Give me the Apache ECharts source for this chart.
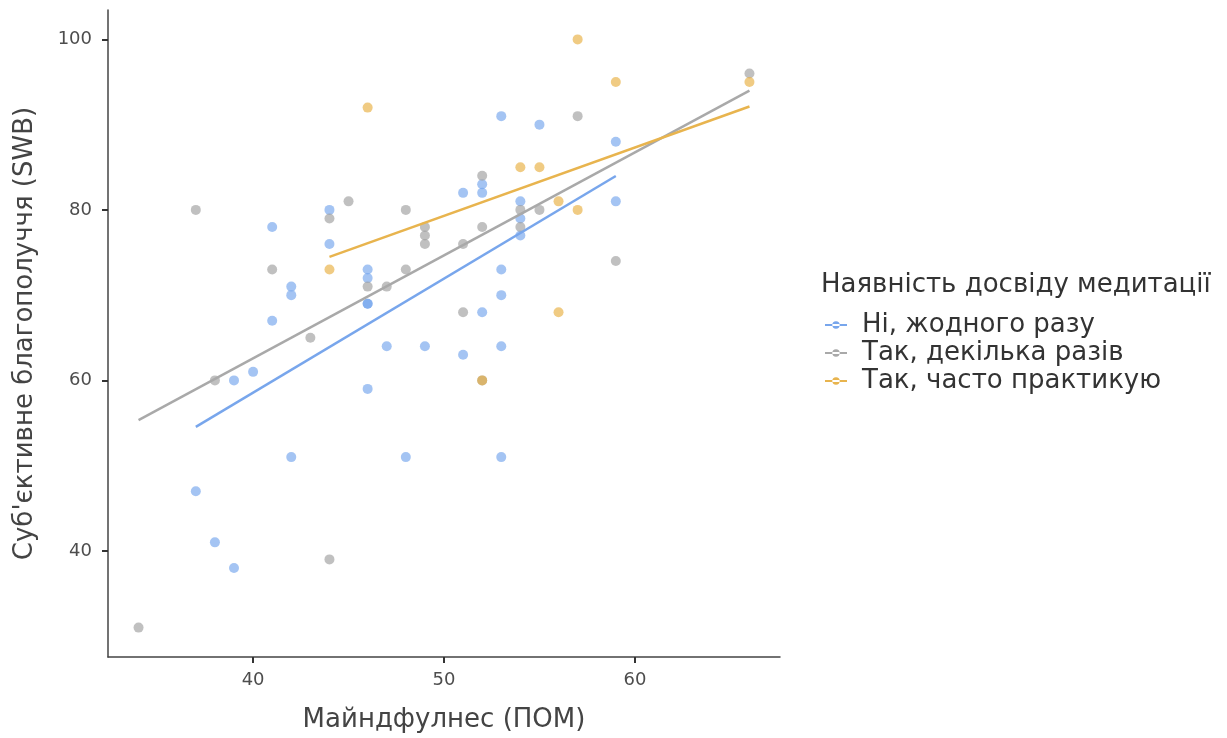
<!DOCTYPE html>
<html>
<head>
<meta charset="utf-8">
<script src="https://cdn.jsdelivr.net/npm/echarts@6/dist/echarts.min.js"></script>
<style>html,body{margin:0;padding:0;background:#fff;}#c{width:1227px;height:738px;}</style>
</head>
<body>
<div id="c"></div>
<script>
const groupNames = ['Ні, жодного разу', 'Так, декілька разів', 'Так, часто практикую'];
const noneX = [41,44,44,41,42,42,46,46,46,46,39,40,37,38,39,42,46,47,48,49,51,51,52,52,52,53,53,53,53,53,54,54,54,55,59,59];
const noneY = [78,80,76,67,71,70,73,72,69,69,60,61,47,41,38,51,59,64,51,64,82,63,68,83,82,91,73,70,64,51,81,79,77,90,88,81];
const fewX = [34,37,38,41,43,44,44,45,46,47,48,48,49,49,49,51,51,52,52,52,54,54,55,57,59,66];
const fewY = [31,80,60,73,65,79,39,81,71,71,80,73,78,77,76,76,68,84,78,60,80,78,80,91,74,96];
const oftenX = [46,44,52,54,55,56,56,57,57,59,66];
const oftenY = [92,73,60,85,85,81,68,100,80,95,95];
const xTicks = [40, 50, 60];
const yTicks = [40, 60, 80, 100];

const X_MIN = 32.4, X_MAX = 67.6, Y_MIN = 27.55, Y_MAX = 103.45;
const pointColors = ['rgba(112,162,236,0.8)', 'rgba(156,156,156,0.8)', 'rgba(232,174,61,0.8)'];
const lineColors = ['#78A6EC', '#A9A9A9', '#E8B44E'];

function fit(xs, ys) {
  const n = xs.length;
  const mx = xs.reduce((a, b) => a + b, 0) / n;
  const my = ys.reduce((a, b) => a + b, 0) / n;
  let sxy = 0, sxx = 0;
  for (let i = 0; i < n; i++) { sxy += (xs[i] - mx) * (ys[i] - my); sxx += (xs[i] - mx) ** 2; }
  const b = sxy / sxx, a = my - b * mx;
  const lo = Math.min(...xs), hi = Math.max(...xs);
  return [[lo, a + b * lo], [hi, a + b * hi]];
}
const groups = [[noneX, noneY], [fewX, fewY], [oftenX, oftenY]];
const series = [];
groups.forEach((g, i) => {
  series.push({
    name: groupNames[i], type: 'line', data: fit(g[0], g[1]), showSymbol: false,
    lineStyle: { color: lineColors[i], width: 2.5 }, itemStyle: { color: lineColors[i] },
    silent: true, z: 3
  });
});
groups.forEach((g, i) => {
  series.push({
    name: groupNames[i], type: 'scatter', data: g[0].map((x, k) => [x, g[1][k]]),
    symbolSize: 10, itemStyle: { color: pointColors[i] }, z: 2
  });
});

const axisLineStyle = { show: true, lineStyle: { color: '#444', width: 1.5 } };
const tickStyle = { show: true, length: 6, lineStyle: { color: '#333', width: 2 } };
const nameStyle = { fontFamily: 'DejaVu Sans', fontSize: 26, color: '#444' };
const chart = echarts.init(document.getElementById('c'), null, { renderer: 'canvas' });
chart.setOption({
  animation: false,
  backgroundColor: '#fff',
  grid: { left: 108, right: 447, top: 10, bottom: 80 },
  title: {
    text: 'Наявність досвіду медитації', left: 821, top: 272, padding: 0,
    textStyle: { fontFamily: 'DejaVu Sans', fontSize: 26, fontWeight: 'normal', color: '#333' }
  },
  legend: {
    left: 825, top: 312, orient: 'vertical', itemGap: 2, padding: 0,
    data: groupNames.map((n, i) => ({ name: n, icon: 'path://M0,3.1h22v1.8H0z M11,0.3a3.7,3.7 0 1,0 0.01,0z', itemStyle: { color: lineColors[i] } })),
    itemWidth: 22, itemHeight: 8,
    textStyle: { fontFamily: 'DejaVu Sans', fontSize: 26, color: '#333', padding: [0, 0, 0, 10] }
  },
  xAxis: {
    type: 'value', min: X_MIN, max: X_MAX,
    name: 'Майндфулнес (ПОМ)', nameLocation: 'middle', nameGap: 50, nameTextStyle: nameStyle,
    axisLine: axisLineStyle, splitLine: { show: false },
    axisTick: Object.assign({ customValues: xTicks }, tickStyle),
    axisLabel: { customValues: xTicks, fontFamily: 'DejaVu Sans', fontSize: 18, color: '#4d4d4d', margin: 14 }
  },
  yAxis: {
    type: 'value', min: Y_MIN, max: Y_MAX,
    name: "Суб'єктивне благополуччя (SWB)", nameLocation: 'middle', nameGap: 70, nameTextStyle: nameStyle,
    axisLine: axisLineStyle, splitLine: { show: false },
    axisTick: Object.assign({ customValues: yTicks }, tickStyle),
    axisLabel: { customValues: yTicks, fontFamily: 'DejaVu Sans', fontSize: 18, color: '#4d4d4d', margin: 16 }
  },
  series: series
});
</script>
</body>
</html>
